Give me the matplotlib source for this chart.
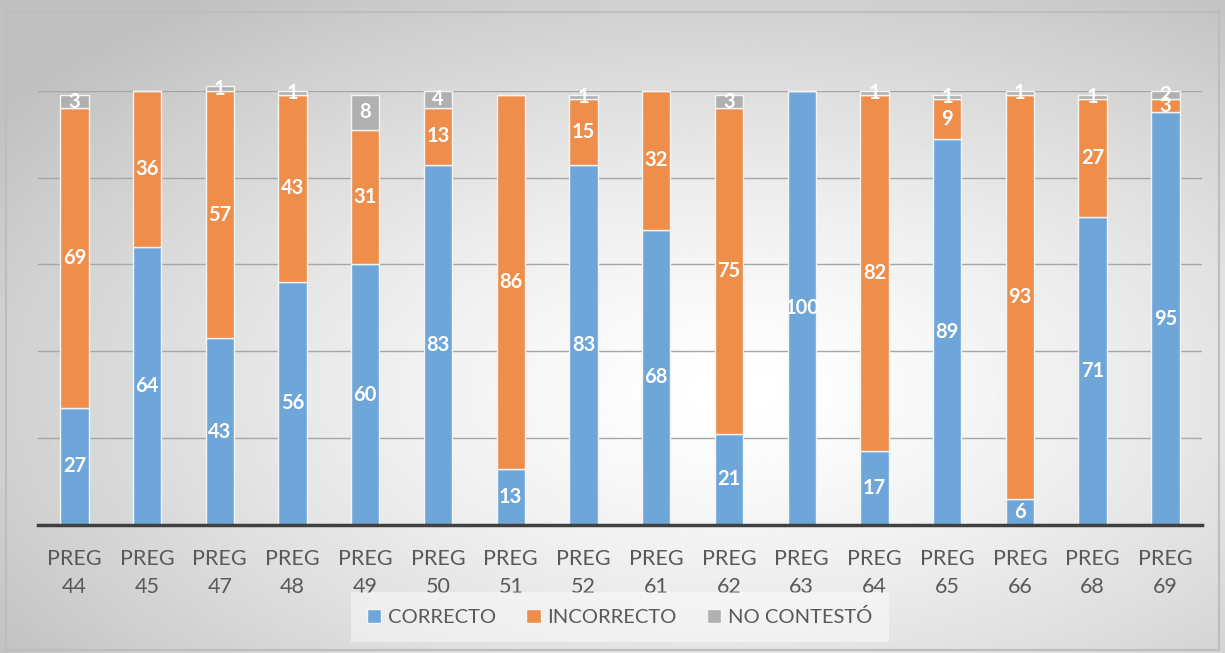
import matplotlib.pyplot as plt
import numpy as np

preguntas = ["44", "45", "47", "48", "49", "50", "51", "52",
             "61", "62", "63", "64", "65", "66", "68", "69"]
correcto = [27, 64, 43, 56, 60, 83, 13, 83, 68, 21, 100, 17, 89, 6, 71, 95]
incorrecto = [69, 36, 57, 43, 31, 13, 86, 15, 32, 75, 0, 82, 9, 93, 27, 3]
no_contesto = [3, 0, 1, 1, 8, 4, 0, 1, 0, 3, 0, 1, 1, 1, 1, 2]

etiquetas = ["PREG\n" + p for p in preguntas]

plt.rcParams["font.family"] = ["Lato", "DejaVu Sans"]

fig = plt.figure(figsize=(12.25, 6.53), dpi=100)

# radial background, light in the middle, grey towards the corners
bg = fig.add_axes([0, 0, 1, 1])
gx, gy = np.meshgrid(np.linspace(0, 1, 400), np.linspace(0, 1, 220))
r = np.sqrt(((gx - 0.6) / 0.75) ** 2 + ((gy - 0.6) / 0.75) ** 2)
shade = 1.0 - 0.25 * np.clip(r, 0, 1) ** 1.4
bg.imshow(shade, cmap="gray", vmin=0, vmax=1, extent=[0, 1, 0, 1],
          aspect="auto", origin="upper")
bg.plot([0.005, 0.995, 0.995, 0.005, 0.005], [0.005, 0.005, 0.982, 0.982, 0.005],
        color="#bdbdbd", lw=1.5)
bg.set_xlim(0, 1)
bg.set_ylim(0, 1)
bg.axis("off")

ax = fig.add_axes([0.031, 0.196, 0.950, 0.665])
ax.patch.set_alpha(0)

x = np.arange(len(preguntas))
w = 0.39
azul = "#6fa6d9"
naranja = "#ef8d4b"
gris = "#b0b0b0"
borde = "#f4f4f4"

ax.bar(x, correcto, w, color=azul, edgecolor=borde, lw=1, label="CORRECTO",
       clip_on=False, zorder=3)
ax.bar(x, incorrecto, w, bottom=correcto, color=naranja, edgecolor=borde, lw=1,
       label="INCORRECTO", clip_on=False, zorder=3)
base3 = [a + b for a, b in zip(correcto, incorrecto)]
ax.bar(x, no_contesto, w, bottom=base3, color=gris, edgecolor=borde, lw=1,
       label="NO CONTESTÓ", clip_on=False, zorder=3)

for i in range(len(x)):
    for val, bot in [(correcto[i], 0), (incorrecto[i], correcto[i]),
                     (no_contesto[i], base3[i])]:
        if val > 0:
            ax.text(x[i], bot + val / 2, str(val), ha="center", va="center",
                    color="white", fontsize=14.5, fontweight="bold", zorder=5)

ax.set_xlim(-0.5, len(x) - 0.5)
ax.set_ylim(0, 100)
ax.set_yticks([0, 20, 40, 60, 80, 100])
ax.set_yticklabels([])
ax.tick_params(axis="y", length=0)
ax.grid(axis="y", color="#a6a6a6", lw=1, zorder=0)
ax.set_axisbelow(True)
for s in ["top", "right", "left"]:
    ax.spines[s].set_visible(False)
ax.spines["bottom"].set_color("#404040")
ax.spines["bottom"].set_linewidth(2.5)
ax.spines["bottom"].set_zorder(4)

ax.set_xticks(x)
ax.set_xticklabels(etiquetas, fontsize=15.5, color="#595959", linespacing=1.55)
ax.tick_params(axis="x", length=0, pad=17)

leg = ax.legend(loc="upper center", bbox_to_anchor=(0.5, -0.145), ncol=3,
                frameon=True, fontsize=14.5, handlelength=0.7, handleheight=0.7,
                columnspacing=1.5, handletextpad=0.35, borderpad=0.5)
leg.get_frame().set_facecolor("white")
leg.get_frame().set_alpha(0.45)
leg.get_frame().set_edgecolor("none")
leg.get_frame().set_boxstyle("square")
for t in leg.get_texts():
    t.set_color("#595959")

fig.savefig("out.png", dpi=100)
